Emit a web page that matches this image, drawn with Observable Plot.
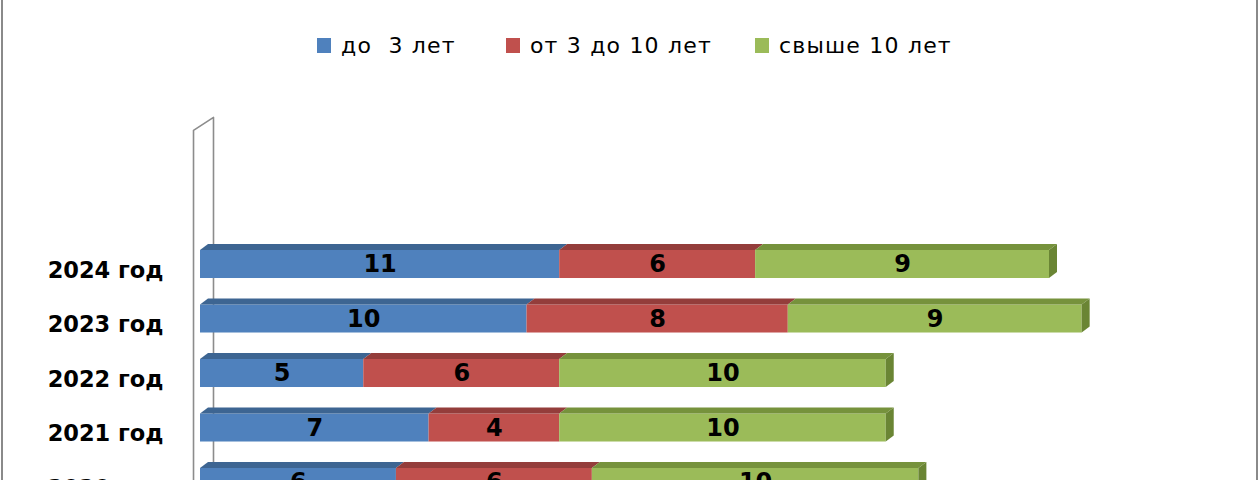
<!DOCTYPE html>
<html>
<head>
<meta charset="utf-8">
<script src="https://cdn.jsdelivr.net/npm/d3@7"></script>
<script src="https://cdn.jsdelivr.net/npm/@observablehq/plot@0.6"></script>
<style>
  html, body { margin: 0; padding: 0; background: #fff; }
  #wrap { position: relative; width: 1260px; height: 480px; overflow: hidden; background: #fff; }
  #wrap::before, #wrap::after { content: ""; position: absolute; top: 0; bottom: 0; width: 2px; background: #8a8a8a; z-index: 5; }
  #wrap::before { left: 1px; }
  #wrap::after { left: 1256px; }
  #legend { position: absolute; left: 317px; top: 28px; height: 34px; display: flex; align-items: center;
            font-family: "DejaVu Sans", sans-serif; font-size: 22px; letter-spacing: 1.2px; color: #000; white-space: pre; }
  .item { display: flex; align-items: center; }
  .sw { width: 14px; height: 15px; margin-right: 10px; }
  #chart { position: absolute; left: 0; top: 90px; }
</style>
</head>
<body>
<div id="wrap">
  <div id="legend"></div>
  <div id="chart"></div>
</div>
<script>
// ---- data ----
const years = ["2024 год", "2023 год", "2022 год", "2021 год", "2020 год"];
const seriesNames = ["до  3 лет", "от 3 до 10 лет", "свыше 10 лет"];
const under3 = [11, 10, 5, 7, 6];
const from3to10 = [6, 8, 6, 4, 6];
const over10 = [9, 9, 10, 10, 10];

// ---- styles ----
const frontColors = ["#4F81BD", "#C0504D", "#9BBB59"];
const topColors = ["#3D6592", "#943D3B", "#76923C"];
const sideColor = "#6A8534";
const FONT = "DejaVu Sans";

// 3D geometry (in scale units)
const HALF = 0.257;   // half bar thickness
const DEPTH_X = 0.245;
const DEPTH_Y = 0.11;

// ---- build tables ----
const seriesValues = [under3, from3to10, over10];
const segs = [];
years.forEach((yr, i) => {
  let acc = 0;
  seriesValues.forEach((vals, s) => {
    const v = vals[i];
    segs.push({year: yr, i, s, value: v, x1: acc, x2: acc + v});
    acc += v;
  });
});
const topPts = segs.flatMap((d, k) => [
  {id: k, s: d.s, y: d.i - HALF, x1: d.x1, x2: d.x2},
  {id: k, s: d.s, y: d.i - HALF - DEPTH_Y, x1: d.x1 + DEPTH_X, x2: d.x2 + DEPTH_X}
]);
const lastSegs = segs.filter(d => d.s === seriesNames.length - 1);
const sidePts = lastSegs.flatMap((d, k) => [
  {id: k, x: d.x2, y1: d.i - HALF, y2: d.i + HALF},
  {id: k, x: d.x2 + DEPTH_X, y1: d.i - HALF - DEPTH_Y, y2: d.i + HALF - DEPTH_Y}
]);
// side wall of the 3D plot area
const wall = [
  {x: -0.214, y: 6},
  {x: -0.214, y: -2.46},
  {x: 0.398, y: -2.70},
  {x: 0.398, y: 6}
];

// ---- legend ----
const legend = document.getElementById("legend");
const gaps = [50, 43, 0];
seriesNames.forEach((n, k) => {
  const it = document.createElement("div");
  it.className = "item";
  it.style.marginRight = gaps[k] + "px";
  it.innerHTML = `<div class="sw" style="background:${frontColors[k]}"></div><span>${n}</span>`;
  legend.appendChild(it);
});

// ---- chart ----
const chart = Plot.plot({
  width: 1260,
  height: 390,
  x: {domain: [0, 26], range: [200, 1049], axis: null},
  y: {domain: [0, 4], range: [174, 392], axis: null},
  color: {type: "identity"},
  style: {background: "transparent", overflow: "hidden"},
  marks: [
    Plot.line(wall, {x: "x", y: "y", stroke: "#8c8c8c", strokeWidth: 1.6, curve: "linear"}),
    Plot.rectX(segs, {x1: "x1", x2: "x2", y1: d => d.i - HALF, y2: d => d.i + HALF,
      fill: d => frontColors[d.s]}),
    Plot.areaX(topPts, {y: "y", x1: "x1", x2: "x2", z: "id", fill: d => topColors[d.s], curve: "linear"}),
    Plot.areaY(sidePts, {x: "x", y1: "y1", y2: "y2", z: "id", fill: sideColor, curve: "linear"}),
    Plot.text(segs, {x: d => (d.x1 + d.x2) / 2, y: "i", text: d => String(d.value),
      fontFamily: FONT, fontWeight: "bold", fontSize: 24, fill: "#000"}),
    Plot.text(years, {x: () => 0, y: (d, i) => i, text: d => d, textAnchor: "end", dx: -37, dy: 6,
      fontFamily: FONT, fontWeight: "bold", fontSize: 22.5, fill: "#000"})
  ]
});
document.getElementById("chart").appendChild(chart);
</script>
</body>
</html>
